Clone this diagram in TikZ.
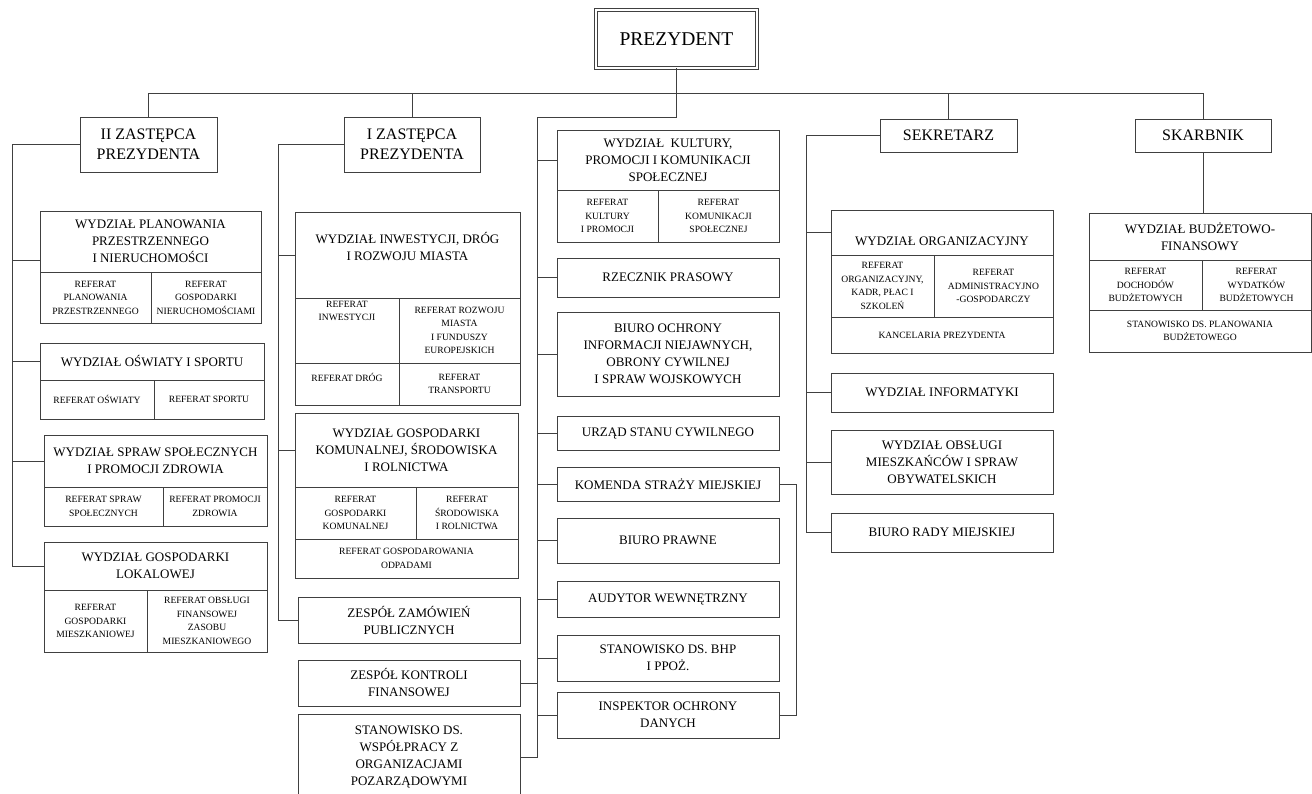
\documentclass[tikz,border=0pt]{standalone}
\usepackage{fontspec}
\setmainfont{Liberation Serif}

\tikzset{
  box/.style={draw=black!75, line width=0.9pt, align=center, inner sep=1pt,
    font=\fontsize{13}{17}\selectfont},
  subbox/.style={box, font=\fontsize{9.6}{13.5}\selectfont},
  bigbox/.style={box, font=\fontsize{16}{20}\selectfont},
  dims/.style 2 args={minimum width=#1pt, minimum height=#2pt},
  txt/.style={align=center, inner sep=0pt, font=\fontsize{13}{17}\selectfont},
  subtxt/.style={align=center, inner sep=0pt, font=\fontsize{9.6}{13.5}\selectfont},
  link/.style={draw=black!75, line width=0.9pt},
}

\begin{document}
\begin{tikzpicture}[x=1pt, y=-1pt]
    \useasboundingbox (0,0) rectangle (1312,794);
    % Top
    \node[box, dims={161}{58}, double, double distance=2pt, line width=1pt,
      font=\fontsize{19.5}{22}\selectfont] (prez) at (676.5,39) {PREZYDENT};
    \node[bigbox, dims={137}{55}] (z2) at (148.5,144.5) {II ZASTĘPCA\\PREZYDENTA};
    \node[bigbox, dims={136}{55}] (z1) at (412,144.5) {I ZASTĘPCA\\PREZYDENTA};
    \node[bigbox, dims={137}{33}] (sek) at (948.5,135.5) {SEKRETARZ};
    \node[bigbox, dims={136}{33}] (skarb) at (1203,135.5) {SKARBNIK};
    % II Zastepca
    \node[box, dims={221}{61}] (wppH) at (150.5,241.5) {WYDZIAŁ PLANOWANIA\\PRZESTRZENNEGO\\I NIERUCHOMOŚCI};
    \node[subbox, dims={111}{51}] (wpp1) at (95.5,297.5) {REFERAT\\PLANOWANIA\\PRZESTRZENNEGO};
    \node[subbox, dims={110}{51}] (wpp2) at (206,297.5) {REFERAT\\GOSPODARKI\\NIERUCHOMOŚCIAMI};
    \node[box, dims={224}{37}] (oswH) at (152,361.5) {WYDZIAŁ OŚWIATY I SPORTU};
    \node[subbox, dims={114}{39}] (osw1) at (97,399.5) {REFERAT OŚWIATY};
    \node[subbox, dims={110}{39}] (osw2) at (209,399.5) {REFERAT SPORTU};
    \node[box, dims={223}{52}] (sprH) at (155.5,461) {WYDZIAŁ SPRAW SPOŁECZNYCH\\I PROMOCJI ZDROWIA};
    \node[subbox, dims={119}{39}] (spr1) at (103.5,506.5) {REFERAT SPRAW\\SPOŁECZNYCH};
    \node[subbox, dims={104}{39}] (spr2) at (215,506.5) {REFERAT PROMOCJI\\ZDROWIA};
    \node[box, dims={223}{48}] (lokH) at (155.5,566) {WYDZIAŁ GOSPODARKI\\LOKALOWEJ};
    \node[subbox, dims={103}{62}] (lok1) at (95.5,621) {REFERAT\\GOSPODARKI\\MIESZKANIOWEJ};
    \node[subbox, dims={120}{62}] (lok2) at (207,621) {REFERAT OBSŁUGI\\FINANSOWEJ\\ZASOBU\\MIESZKANIOWEGO};
    % I Zastepca
    \node[box, dims={225}{86}] (inwH) at (407.5,255) {};
    \node[txt] (inwHt) at (407.5,247) {WYDZIAŁ INWESTYCJI, DRÓG\\I ROZWOJU MIASTA};
    \node[subbox, dims={104}{65}] (inw1) at (347,330.5) {};
    \node[subtxt] (inw1t) at (347,311) {REFERAT\\INWESTYCJI};
    \node[subbox, dims={121}{65}] (inw2) at (459.5,330.5) {REFERAT ROZWOJU\\MIASTA\\I FUNDUSZY\\EUROPEJSKICH};
    \node[subbox, dims={104}{42}] (inw3) at (347,384) {};
    \node[subtxt] (inw3t) at (347,377) {REFERAT DRÓG};
    \node[subbox, dims={121}{42}] (inw4) at (459.5,384) {REFERAT\\TRANSPORTU};
    \node[box, dims={223}{74}] (komH) at (406.5,450) {WYDZIAŁ GOSPODARKI\\KOMUNALNEJ, ŚRODOWISKA\\I ROLNICTWA};
    \node[subbox, dims={121}{52}] (kom1) at (355.5,513) {REFERAT\\GOSPODARKI\\KOMUNALNEJ};
    \node[subbox, dims={102}{52}] (kom2) at (467,513) {REFERAT\\ŚRODOWISKA\\I ROLNICTWA};
    \node[subbox, dims={223}{39}] (kom3) at (406.5,558.5) {REFERAT GOSPODAROWANIA\\ODPADAMI};
    \node[box, dims={222}{46}] (zam) at (409,620) {ZESPÓŁ ZAMÓWIEŃ\\PUBLICZNYCH};
    \node[box, dims={222}{46}] (kontr) at (409,683) {ZESPÓŁ KONTROLI\\FINANSOWEJ};
    \node[box, dims={222}{86}] (wsp) at (409,757) {STANOWISKO DS.\\WSPÓŁPRACY Z\\ORGANIZACJAMI\\POZARZĄDOWYMI};
    % Prezydent directly
    \node[box, dims={222}{60}] (kultH) at (668,160) {WYDZIAŁ\ \ KULTURY,\\PROMOCJI I KOMUNIKACJI\\SPOŁECZNEJ};
    \node[subbox, dims={101}{52}] (kult1) at (607.5,216) {REFERAT\\KULTURY\\I PROMOCJI};
    \node[subbox, dims={121}{52}] (kult2) at (718.5,216) {REFERAT\\KOMUNIKACJI\\SPOŁECZNEJ};
    \node[box, dims={222}{39}] (rzecz) at (668,277.5) {RZECZNIK PRASOWY};
    \node[box, dims={222}{84}] (bochr) at (668,354) {BIURO OCHRONY\\INFORMACJI NIEJAWNYCH,\\OBRONY CYWILNEJ\\I SPRAW WOJSKOWYCH};
    \node[box, dims={222}{34}] (usc) at (668,433) {URZĄD STANU CYWILNEGO};
    \node[box, dims={222}{34}] (ksm) at (668,484) {KOMENDA STRAŻY MIEJSKIEJ};
    \node[box, dims={222}{45}] (prawne) at (668,540.5) {BIURO PRAWNE};
    \node[box, dims={222}{36}] (audyt) at (668,599) {AUDYTOR WEWNĘTRZNY};
    \node[box, dims={222}{46}] (bhp) at (668,658) {STANOWISKO DS. BHP\\I PPOŻ.};
    \node[box, dims={222}{46}] (iod) at (668,715) {INSPEKTOR OCHRONY\\DANYCH};
    % Sekretarz
    \node[box, dims={222}{45}] (orgH) at (942,232.5) {};
    \node[txt] (orgHt) at (942,241) {WYDZIAŁ ORGANIZACYJNY};
    \node[subbox, dims={103}{62}] (org1) at (882.5,286) {REFERAT\\ORGANIZACYJNY,\\KADR, PŁAC I\\SZKOLEŃ};
    \node[subbox, dims={119}{62}] (org2) at (993.5,286) {REFERAT\\ADMINISTRACYJNO\\-GOSPODARCZY};
    \node[subbox, dims={222}{36}] (orgK) at (942,335) {KANCELARIA PREZYDENTA};
    \node[box, dims={222}{39}] (inf) at (942,392.5) {WYDZIAŁ INFORMATYKI};
    \node[box, dims={222}{64}] (obs) at (942,462) {WYDZIAŁ OBSŁUGI\\MIESZKAŃCÓW I SPRAW\\OBYWATELSKICH};
    \node[box, dims={222}{39}] (rady) at (942,532.5) {BIURO RADY MIEJSKIEJ};
    % Skarbnik
    \node[box, dims={222}{47}] (budH) at (1200,236.5) {WYDZIAŁ BUDŻETOWO-\\FINANSOWY};
    \node[subbox, dims={113}{50}] (bud1) at (1145.5,285) {REFERAT\\DOCHODÓW\\BUDŻETOWYCH};
    \node[subbox, dims={109}{50}] (bud2) at (1256.5,285) {REFERAT\\WYDATKÓW\\BUDŻETOWYCH};
    \node[subbox, dims={222}{42}] (bud3) at (1200,331) {STANOWISKO DS. PLANOWANIA\\BUDŻETOWEGO};

    % Connectors
    \coordinate (bus) at (0,93);
    \coordinate (m0) at (537,117);
    \coordinate (l0) at (12,0);
    \coordinate (l1) at (278,0);
    \coordinate (r0) at (806,0);
    \draw[link] (z2.north) |- (skarb.north |- bus) -- (skarb.north);
    \draw[link] (z1.north) -- (z1.north |- bus);
    \draw[link] (sek.north) -- (sek.north |- bus);
    \draw[link] (prez.south) |- (m0) |- (wsp.east);
    \foreach \b in {kultH, rzecz, bochr, usc, ksm, prawne, audyt, bhp, iod}
      \draw[link] (m0 |- \b.west) -- (\b.west);
    \draw[link] (kontr.east) -- (kontr.east -| m0);
    \draw[link] (ksm.east) -- ++(17,0) |- (iod.east);
    % left trunks
    \coordinate (wppJ) at ([yshift=-18.5pt]wppH.west);
    \draw[link] (z2.west) -| (l0 |- lokH.west) -- (lokH.west);
    \foreach \b in {wppJ, oswH.west, sprH.west}
      \draw[link] (l0 |- \b) -- (\b);
    \draw[link] (z1.west) -| (l1 |- zam.west) -- (zam.west);
    \foreach \b in {inwH, komH}
      \draw[link] (l1 |- \b.west) -- (\b.west);
    % right trunks
    \draw[link] (sek.west) -| (r0 |- rady.west) -- (rady.west);
    \foreach \b in {orgH, inf, obs}
      \draw[link] (r0 |- \b.west) -- (\b.west);
    \draw[link] (skarb.south) -- (skarb.south |- budH.north);
\end{tikzpicture}
\end{document}
